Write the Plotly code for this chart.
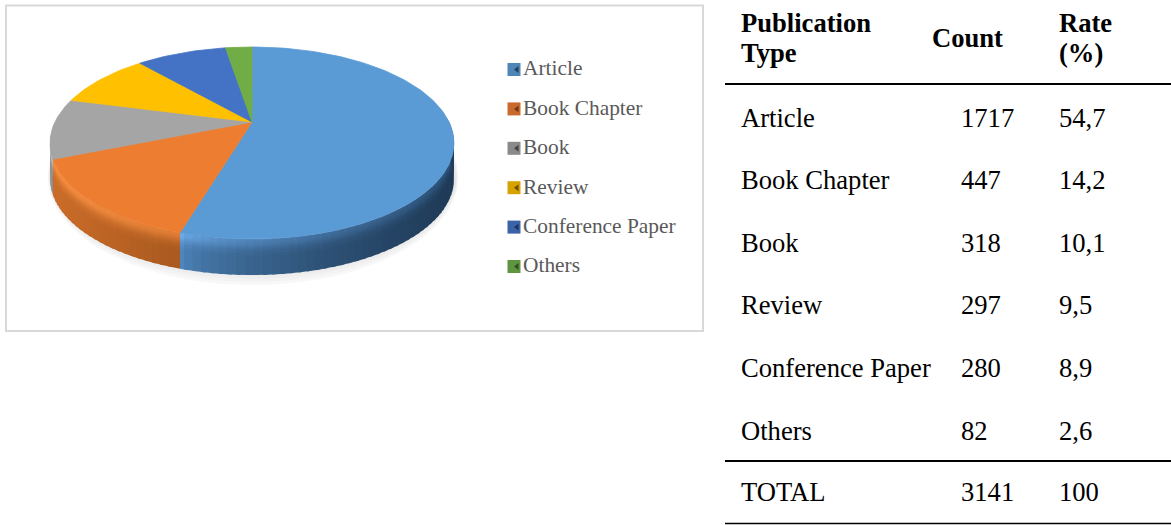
import numpy as np
import plotly.graph_objects as go

# ---- data ----
categories = ["Article", "Book Chapter", "Book", "Review", "Conference Paper", "Others"]
counts = [1717, 447, 318, 297, 280, 82]
rates = ["54,7", "14,2", "10,1", "9,5", "8,9", "2,6"]
total_label = "TOTAL"
total_count = "3141"
total_rate = "100"
header_col1 = ["Publication", "Type"]
header_col2 = ["Count"]
header_col3 = ["Rate", "(%)"]

# ---- styles ----
top_colors = ["#5b9bd5", "#ed7d31", "#a5a5a5", "#ffc000", "#4472c4", "#70ad47"]
swatch_colors = ["#4f86b8", "#c96a2c", "#8a8a8a", "#d6a200", "#3c62a8", "#5f9440"]
notch_colors = ["#22405f", "#6e3a16", "#444444", "#6b5200", "#1f3560", "#2f5222"]
wall_left = {0: "#4f86bd", 1: "#cc6d2a", 2: "#8c8c8c"}
wall_right = {0: "#1f3a57", 1: "#a9591f", 2: "#8c8c8c"}
bevel_left = {0: "#6cabeb", 1: "#f58e40", 2: "#bdbdbd"}
bevel_right = {0: "#2c5177", 1: "#dc7a33", 2: "#b5b5b5"}
TEXT_FONT = "Liberation Serif, Times New Roman, serif"

# ---- pie geometry (pixels of the 1171x525 page) ----
CX, CY, A, B, K, DEPTH = 252.0, 122.0, 197.0, 91.4, 0.219, 36.0


def project(theta, drop=0.0):
    """Clockwise angle from twelve o'clock -> page position on the tilted disc."""
    u, v = np.sin(theta), np.cos(theta)
    w = 1 + K * v
    return CX + A * u / w, CY - B * v / w + drop


def hex_rgb(c):
    return np.array([int(c[i:i + 2], 16) for i in (1, 3, 5)], float)


def mix(c1, c2, t):
    r = hex_rgb(c1) * (1 - t) + hex_rgb(c2) * t
    return "#%02x%02x%02x" % tuple(int(v) for v in r.round())


def poly(xs, ys, color, lw=0.0):
    return go.Scatter(x=list(xs), y=list(ys), mode="lines", fill="toself", fillcolor=color,
                      line=dict(color=color, width=lw), hoverinfo="skip", showlegend=False)


fig = go.Figure()

# soft shadow under the pie
t = np.linspace(0, 2 * np.pi, 120)
for grow, col in [(12, "#f8f8f8"), (9, "#f3f3f3"), (6, "#eeeeee"), (3, "#e9e9e9"), (0, "#e5e5e5")]:
    fig.add_trace(poly(253 + (203 + grow * 0.2) * np.cos(t), 177 + (96 + grow) * np.sin(t),
                       col))

fractions = np.array(counts, float) / sum(counts)
edges = np.concatenate([[0], np.cumsum(fractions)]) * 2 * np.pi

# side wall, drawn as overlapping shaded strips so no seams show
depth_levels = [0, 2, 4, 6, 8, 10, 13, 16, DEPTH]
depth_mix = [0.0, 0.12, 0.3, 0.5, 0.68, 0.82, 0.94, 1.0]
x_left, x_right = 184.0, 453.0
overlap = np.radians(1.0)
for i in [2, 1, 0]:
    a0 = max(edges[i], np.pi / 2 - 0.05)
    a1 = min(edges[i + 1], 3 * np.pi / 2)
    n = max(2, int((a1 - a0) / np.radians(2)))
    th = np.linspace(a0, a1, n + 1)
    for j in range(n - 1, -1, -1):
        seg = np.linspace(th[j], min(th[j + 1] + overlap, a1), 3)
        xm = project((th[j] + th[j + 1]) / 2)[0]
        if i == 0:
            s = np.clip((xm - x_left) / (x_right - x_left), 0, 1) ** 0.6
        else:
            s = 1 - np.clip((x_left - xm) / (x_left - 50), 0, 1)
        lo = mix(wall_left[i], wall_right[i], s)
        hi = mix(bevel_left[i], bevel_right[i], s)
        for d in range(len(depth_levels) - 2, -1, -1):
            bottom = depth_levels[d + 1] + (1.5 if d < len(depth_levels) - 2 else 0)
            x1, y1 = project(seg, depth_levels[d])
            x2, y2 = project(seg[::-1], bottom)
            fig.add_trace(poly(np.r_[x1, x2], np.r_[y1, y2], mix(hi, lo, depth_mix[d])))

# top face
for i in range(len(categories)):
    n = max(4, int((edges[i + 1] - edges[i]) / np.radians(1.5)))
    th = np.linspace(edges[i], edges[i + 1], n + 1)
    x, y = project(th)
    fig.add_trace(poly(np.r_[CX, x, CX], np.r_[CY, y, CY], top_colors[i], 0.8))

# legend
legend_x, legend_top, legend_step = 514, 69.5, 39.4
for i, name in enumerate(categories):
    ly = legend_top + i * legend_step
    fig.add_trace(go.Scatter(x=[legend_x], y=[ly], mode="markers", name=name,
                             marker=dict(symbol="square", size=13, color=swatch_colors[i]),
                             hoverinfo="skip", showlegend=False))
    fig.add_trace(go.Scatter(x=[legend_x + 3], y=[ly], mode="markers",
                             marker=dict(symbol="triangle-left", size=6, color=notch_colors[i]),
                             hoverinfo="skip", showlegend=False))
    fig.add_trace(go.Scatter(x=[legend_x + 9], y=[ly + 0.5], mode="text",
                             text=[name], textposition="middle right",
                             textfont=dict(family=TEXT_FONT, size=21.4, color="#595959"),
                             hoverinfo="skip", showlegend=False))

# table
COL = [739, 959, 1057]
ROW_Y = [118, 180, 243, 305, 368, 431, 492]
rows = [[c, str(n), r] for c, n, r in zip(categories, counts, rates)]
rows.append([total_label, total_count, total_rate])
ann = []


def cell(x, y, text, bold=False):
    ann.append(dict(x=x, y=y, text=("<b>%s</b>" % text) if bold else text, xref="x", yref="y",
                    xanchor="left", yanchor="middle", showarrow=False,
                    font=dict(family=TEXT_FONT, size=26.6, color="#000000")))


for r, y in zip(rows, ROW_Y):
    for c, x in zip(r, COL):
        cell(x, y, c)
for y, s in zip([23, 53], header_col1):
    cell(COL[0], y, s, True)
for s in header_col2:
    cell(COL[1] - 29, 38, s, True)
for y, s in zip([23, 53], header_col3):
    cell(COL[2], y, s, True)

shapes = [
    dict(type="rect", x0=6, x1=703, y0=5.5, y1=331, xref="x", yref="y",
         line=dict(color="#d9d9d9", width=2), fillcolor="rgba(0,0,0,0)", layer="below"),
]
for y, w in [(84, 2.2), (461, 2.2), (523.5, 1.5)]:
    shapes.append(dict(type="line", x0=725, x1=1171, y0=y, y1=y, xref="x", yref="y",
                       line=dict(color="#000000", width=w)))

fig.update_layout(
    width=1171, height=525, margin=dict(l=0, r=0, t=0, b=0),
    paper_bgcolor="#ffffff", plot_bgcolor="#ffffff", showlegend=False,
    xaxis=dict(range=[0, 1171], visible=False, fixedrange=True),
    yaxis=dict(range=[525, 0], visible=False, fixedrange=True),
    shapes=shapes, annotations=ann,
)
fig.write_html("out.html", config={"displayModeBar": False}, default_width="1171px",
               default_height="525px",
               post_script="document.body.style.margin='0';document.documentElement.style.overflow='hidden';")
